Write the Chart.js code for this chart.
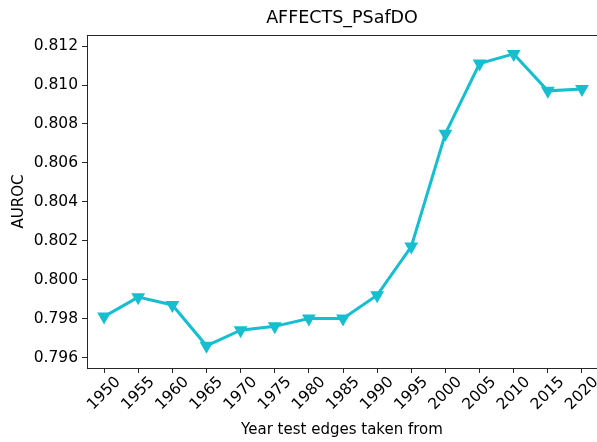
<!DOCTYPE html>
<html><head><meta charset="utf-8">
<script src="https://cdn.jsdelivr.net/npm/chart.js@4/dist/chart.umd.min.js"></script>
<style>html,body{margin:0;padding:0;background:#fff}#wrap{width:597px;height:442px}</style>
</head><body><div id="wrap"><canvas id="c"></canvas></div>
<script>
const years = [1950,1955,1960,1965,1970,1975,1980,1985,1990,1995,2000,2005,2010,2015,2020];
const auroc = [0.7981,0.7991,0.7987,0.7966,0.7974,0.7976,0.7980,0.7980,0.7992,0.8017,0.8075,0.8111,0.8116,0.8097,0.8098];
const yTicks = [0.796,0.798,0.800,0.802,0.804,0.806,0.808,0.810,0.812];
const titleText = 'AFFECTS_PSafDO';
const xLabel = 'Year test edges taken from';
const yLabel = 'AUROC';

const FONT = 'DejaVu Sans';
const frame = {
  id:'frame',
  afterDraw(chart){
    const a = chart.chartArea, ctx = chart.ctx;
    ctx.save(); ctx.strokeStyle='#262626'; ctx.lineWidth=1;
    ctx.beginPath();
    ctx.moveTo(a.left, a.top+0.5); ctx.lineTo(a.right, a.top+0.5);
    ctx.stroke();
    ctx.restore();
  }
};
new Chart(document.getElementById('c'), {
  type:'line',
  data:{datasets:[{
    data: years.map((y,i)=>({x:y,y:auroc[i]})),
    borderColor:'#17becf', backgroundColor:'#17becf',
    borderWidth:3, pointStyle:'triangle', rotation:180,
    pointRadius:8, pointHoverRadius:8, pointBorderWidth:0, tension:0
  }]},
  options:{
    responsive:true, maintainAspectRatio:false, animation:false,
    layout:{autoPadding:false,padding:{left:0,right:0,top:0,bottom:0}},
    plugins:{legend:{display:false},tooltip:{enabled:false},
      title:{display:true,text:titleText,fullSize:false,color:'#000',
        font:{family:FONT,size:17.5,weight:'normal'},padding:{top:8,bottom:6}}},
    scales:{
      x:{type:'linear',min:1947.5,max:2022.2,
        afterBuildTicks(s){s.ticks=years.map(v=>({value:v}));},
        afterFit(s){s.height=74; s.paddingLeft=0; s.paddingRight=0;},
        ticks:{color:'#000',font:{family:FONT,size:15.5},maxRotation:45,minRotation:45,
          labelOffset:14,padding:0,callback:v=>String(v)},
        grid:{display:true,drawOnChartArea:false,drawTicks:true,tickLength:5,color:'#262626'},
        border:{color:'#262626'},
        title:{display:true,text:xLabel,color:'#000',font:{family:FONT,size:15},padding:{top:0,bottom:3}}
      },
      y:{min:0.79546,max:0.81257,
        afterBuildTicks(s){s.ticks=yTicks.map(v=>({value:v}));},
        afterFit(s){s.width=87; s.paddingTop=0; s.paddingBottom=0;},
        ticks:{color:'#000',font:{family:FONT,size:15.5},padding:4,callback:v=>v.toFixed(3)},
        grid:{display:true,drawOnChartArea:false,drawTicks:true,tickLength:5,color:'#262626'},
        border:{color:'#262626'},
        title:{display:true,text:yLabel,color:'#000',font:{family:FONT,size:15},padding:{top:10,bottom:0}}
      }
    }
  },
  plugins:[frame]
});
</script></body></html>
